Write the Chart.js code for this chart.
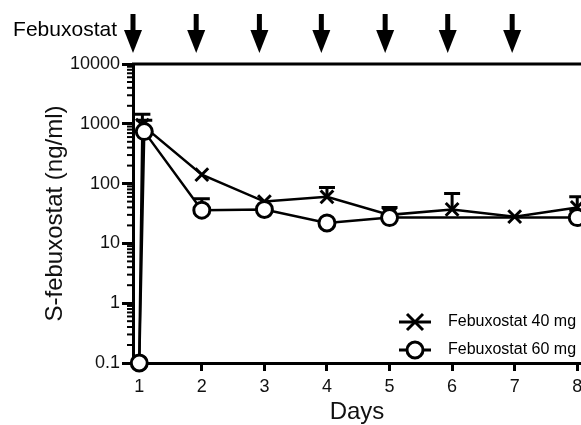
<!DOCTYPE html>
<html lang="en">
<head>
    <meta charset="UTF-8">
    <title>S-febuxostat</title>
    <script src="https://cdn.jsdelivr.net/npm/chart.js"></script>
    <style>
        html, body { margin: 0; padding: 0; background: #fff; }
        #box { width: 581px; height: 425px; position: relative; }
    </style>
</head>
<body>
    <div id="box"><canvas id="grafico"></canvas></div>

    <script>
        // dados
        const days40 = [1, 1.05, 2, 3, 4, 5, 6, 7, 8];
        const conc40 = [0.1, 950, 141, 50, 60, 30, 37, 28, 40];
        const upper40 = [null, 1450, null, null, 86, null, 68, null, 60];

        const days60 = [1, 1.08, 2, 3, 4, 5, 8];
        const conc60 = [0.1, 740, 36, 37, 22, 27, 27];
        const upper60 = [null, 1150, 56, null, null, 40, 36];

        const dayTicks = [1, 2, 3, 4, 5, 6, 7, 8];
        const concTicks = [0.1, 1, 10, 100, 1000, 10000];
        const concLabels = ['0.1', '1', '10', '100', '1000', '10000'];
        const doseDays = [0.9, 1.91, 2.92, 3.91, 4.93, 5.93, 6.96];

        const fonte = 'Liberation Sans, Arial, sans-serif';

        function pontos(xs, ys) {
            return xs.map((x, i) => ({ x: x, y: ys[i] }));
        }

        // barras de erro (somente para cima)
        const barrasErro = {
            id: 'barrasErro',
            beforeDatasetsDraw(chart) {
                const ctx = chart.ctx;
                const xs = chart.scales.x, ys = chart.scales.y;
                [[days40, conc40, upper40], [days60, conc60, upper60]].forEach(([d, c, u]) => {
                    u.forEach((v, i) => {
                        if (v == null) return;
                        const px = xs.getPixelForValue(d[i]);
                        const y0 = ys.getPixelForValue(c[i]);
                        const y1 = ys.getPixelForValue(v);
                        ctx.save();
                        ctx.strokeStyle = '#000';
                        ctx.lineWidth = 3;
                        ctx.beginPath();
                        ctx.moveTo(px, y0);
                        ctx.lineTo(px, y1);
                        ctx.moveTo(px - 8, y1);
                        ctx.lineTo(px + 8, y1);
                        ctx.stroke();
                        ctx.restore();
                    });
                });
            }
        };

        // setas de dose, linha superior, ticks menores e legenda
        const extras = {
            id: 'extras',
            afterDraw(chart) {
                const ctx = chart.ctx;
                const area = chart.chartArea;
                const xs = chart.scales.x, ys = chart.scales.y;
                ctx.save();
                ctx.fillStyle = '#000';
                ctx.strokeStyle = '#000';

                // linha superior
                ctx.lineWidth = 3;
                ctx.beginPath();
                ctx.moveTo(area.left - 1, area.top);
                ctx.lineTo(area.right, area.top);
                ctx.stroke();

                // ticks menores do eixo log
                ctx.lineWidth = 2;
                for (let e = -1; e < 4; e++) {
                    for (let m = 2; m < 10; m++) {
                        const py = ys.getPixelForValue(m * Math.pow(10, e));
                        ctx.beginPath();
                        ctx.moveTo(area.left - 6, py);
                        ctx.lineTo(area.left, py);
                        ctx.stroke();
                    }
                }

                // rótulo Febuxostat + setas
                ctx.font = '21px ' + fonte;
                ctx.textAlign = 'right';
                ctx.textBaseline = 'middle';
                ctx.fillText('Febuxostat', 117, 30);
                doseDays.forEach(d => {
                    const px = xs.getPixelForValue(d);
                    ctx.fillRect(px - 2.5, 14, 5, 18);
                    ctx.beginPath();
                    ctx.moveTo(px - 9, 30);
                    ctx.lineTo(px + 9, 30);
                    ctx.lineTo(px, 53);
                    ctx.closePath();
                    ctx.fill();
                });

                // legenda
                ctx.font = '16px ' + fonte;
                ctx.textAlign = 'left';
                chart.data.datasets.forEach((ds, i) => {
                    const ly = area.bottom - 41 + i * 28;
                    const lx = area.right - 166;
                    ctx.lineWidth = 3;
                    ctx.beginPath();
                    ctx.moveTo(lx - 16, ly);
                    ctx.lineTo(lx + 16, ly);
                    ctx.stroke();
                    if (ds.pointStyle === 'circle') {
                        ctx.fillStyle = '#fff';
                        ctx.beginPath();
                        ctx.arc(lx, ly, 8, 0, Math.PI * 2);
                        ctx.fill();
                        ctx.stroke();
                        ctx.fillStyle = '#000';
                    } else {
                        ctx.beginPath();
                        ctx.moveTo(lx - 8, ly - 8); ctx.lineTo(lx + 8, ly + 8);
                        ctx.moveTo(lx + 8, ly - 8); ctx.lineTo(lx - 8, ly + 8);
                        ctx.stroke();
                    }
                    ctx.fillText(ds.label, lx + 33, ly);
                });
                ctx.restore();
            }
        };

        new Chart(document.getElementById('grafico'), {
            type: 'line',
            data: {
                datasets: [{
                    label: 'Febuxostat 40 mg',
                    data: pontos(days40, conc40),
                    order: 1,
                    borderColor: '#000',
                    borderWidth: 2.5,
                    pointStyle: 'crossRot',
                    pointRadius: 9,
                    pointBorderWidth: 3,
                    pointBorderColor: '#000',
                    pointBackgroundColor: '#000',
                    clip: false
                }, {
                    label: 'Febuxostat 60 mg',
                    data: pontos(days60, conc60),
                    order: 0,
                    borderColor: '#000',
                    borderWidth: 2.5,
                    pointStyle: 'circle',
                    pointRadius: 8,
                    pointBorderWidth: 3,
                    pointBorderColor: '#000',
                    pointBackgroundColor: '#fff',
                    clip: false
                }]
            },
            options: {
                responsive: true,
                maintainAspectRatio: false,
                animation: false,
                layout: { autoPadding: false, padding: { top: 64, left: 0, right: 0, bottom: 0 } },
                plugins: {
                    legend: { display: false },
                    tooltip: { enabled: false }
                },
                scales: {
                    x: {
                        type: 'linear',
                        min: 0.9,
                        max: 8.06,
                        afterBuildTicks: s => { s.ticks = dayTicks.map(v => ({ value: v })); },
                        afterFit: s => { s.height = 62; s.paddingLeft = 0; s.paddingRight = 0; },
                        grid: { drawOnChartArea: false, tickLength: 8, tickWidth: 3, tickColor: '#000' },
                        border: { color: '#000', width: 3 },
                        ticks: { color: '#111', font: { family: fonte, size: 18 }, padding: 5, maxRotation: 0 },
                        title: {
                            display: true, text: 'Days', color: '#111',
                            font: { family: fonte, size: 24 }, padding: { top: 0, bottom: -2 }
                        }
                    },
                    y: {
                        type: 'logarithmic',
                        min: 0.1,
                        max: 10000,
                        afterBuildTicks: s => { s.ticks = concTicks.map(v => ({ value: v })); },
                        afterFit: s => { s.width = 133; s.paddingTop = 0; s.paddingBottom = 0; },
                        grid: { drawOnChartArea: false, tickLength: 11, tickWidth: 3, tickColor: '#000' },
                        border: { color: '#000', width: 3 },
                        ticks: {
                            color: '#111', font: { family: fonte, size: 18 }, padding: 2,
                            callback: (v) => concLabels[concTicks.indexOf(v)]
                        },
                        title: {
                            display: true, text: 'S-febuxostat (ng/ml)', color: '#111',
                            font: { family: fonte, size: 24 }, padding: { top: 41, bottom: 0 }
                        }
                    }
                }
            },
            plugins: [barrasErro, extras]
        });
    </script>
</body>
</html>
